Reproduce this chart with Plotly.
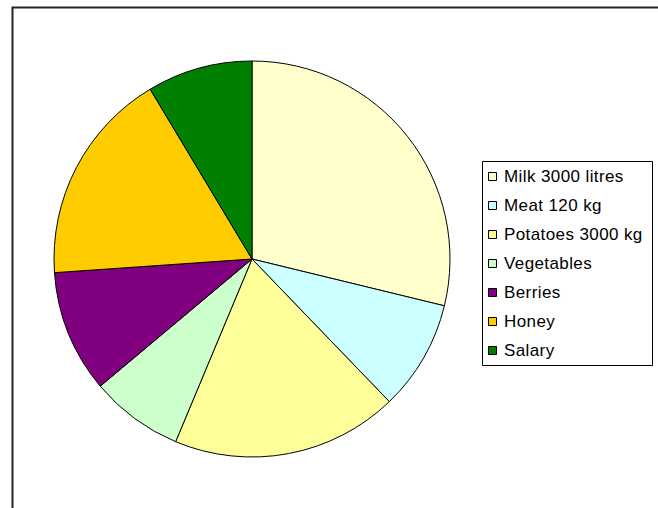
import plotly.graph_objects as go

# Farm income shares, clockwise from 12 o'clock
categories = ["Milk 3000 litres", "Meat 120 kg", "Potatoes 3000 kg",
              "Vegetables", "Berries", "Honey", "Salary"]
values = [28.8, 9.0, 18.5, 7.6, 10.0, 17.5, 8.6]
colors = ["#FFFFCC", "#CCFFFF", "#FFFF99", "#CCFFCC", "#800080", "#FFCC00", "#008000"]

W, H = 658, 508

def px(x):
    return x / W

def py(y):
    return 1 - y / H

cx, cy, r = 252, 259, 198

fig = go.Figure(go.Pie(
    labels=categories,
    values=values,
    marker=dict(colors=colors, line=dict(color="black", width=1)),
    sort=False,
    direction="clockwise",
    rotation=0,
    textinfo="none",
    hoverinfo="label+percent",
    showlegend=False,
    domain=dict(x=[px(cx - r), px(cx + r)], y=[py(cy + r), py(cy - r)]),
))

shapes = [
    # outer chart frame (runs past the right and bottom edges)
    dict(type="rect", xref="paper", yref="paper",
         x0=px(12.5), x1=px(W + 20), y0=py(H + 20), y1=py(7.5),
         line=dict(color="#222222", width=2), fillcolor="rgba(0,0,0,0)"),
    # legend box
    dict(type="rect", xref="paper", yref="paper",
         x0=px(482.5), x1=px(652.5), y0=py(365.5), y1=py(161.5),
         line=dict(color="black", width=1), fillcolor="white"),
]
annotations = []
for i, (name, col) in enumerate(zip(categories, colors)):
    yc = 176.5 + 29 * i
    shapes.append(dict(type="rect", xref="paper", yref="paper",
                       x0=px(488.5), x1=px(496.5), y0=py(yc + 4), y1=py(yc - 4),
                       line=dict(color="black", width=1), fillcolor=col))
    annotations.append(dict(xref="paper", yref="paper", x=px(502), y=py(yc),
                            xanchor="left", yanchor="middle", showarrow=False,
                            text='<span style="letter-spacing:0.4px">' + name + '</span>',
                            align="left",
                            font=dict(family="Liberation Sans, Arial", size=17, color="black")))

fig.update_layout(
    width=W, height=H,
    margin=dict(l=0, r=0, t=0, b=0),
    paper_bgcolor="white", plot_bgcolor="white",
    shapes=shapes, annotations=annotations,
)

fig.write_html("out.html")
